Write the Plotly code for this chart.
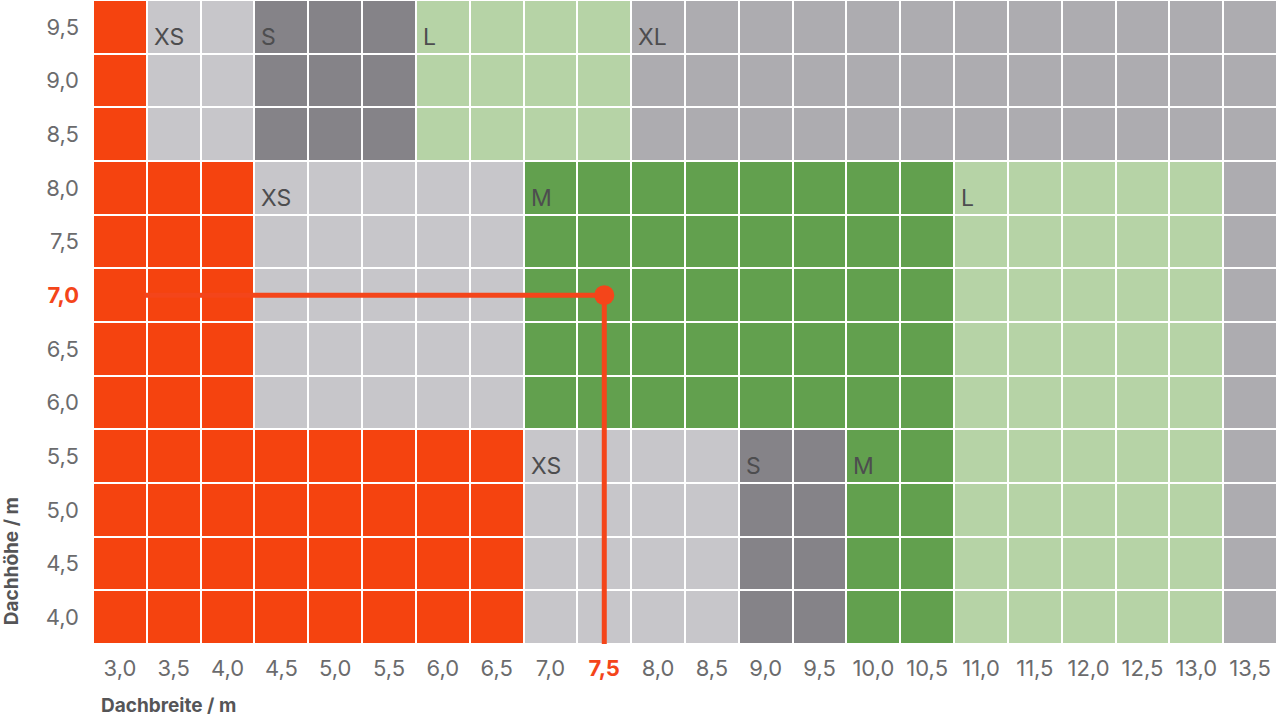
import plotly.graph_objects as go

# --- data ---
widths = [3.0, 3.5, 4.0, 4.5, 5.0, 5.5, 6.0, 6.5, 7.0, 7.5, 8.0, 8.5,
          9.0, 9.5, 10.0, 10.5, 11.0, 11.5, 12.0, 12.5, 13.0, 13.5]
heights = [4.0, 4.5, 5.0, 5.5, 6.0, 6.5, 7.0, 7.5, 8.0, 8.5, 9.0, 9.5]

row_low = ["R"] * 8 + ["XS"] * 4 + ["S"] * 2 + ["M"] * 2 + ["L"] * 5 + ["XL"]
row_mid = ["R"] * 3 + ["XS"] * 5 + ["M"] * 8 + ["L"] * 5 + ["XL"]
row_high = ["R"] + ["XS"] * 2 + ["S"] * 3 + ["L"] * 4 + ["XL"] * 12
size_grid = [row_low] * 4 + [row_mid] * 5 + [row_high] * 3   # rows bottom -> top

classes = ["R", "XS", "S", "M", "L", "XL"]
class_colors = ["#F5430F", "#C7C6CA", "#858388", "#62A04E", "#B6D3A6", "#ADACB0"]

labels = [(3.5, 9.5, "XS"), (4.5, 9.5, "S"), (6.0, 9.5, "L"), (8.0, 9.5, "XL"),
          (4.5, 8.0, "XS"), (7.0, 8.0, "M"), (11.0, 8.0, "L"),
          (7.0, 5.5, "XS"), (9.0, 5.5, "S"), (10.0, 5.5, "M")]

sel_width = 7.5
sel_height = 7.0

ORANGE = "#F4451A"
FONT = "Inter, Roboto, Liberation Sans, sans-serif"

def fmt(v):
    return f"{v:.1f}".replace(".", ",")

# --- figure ---
z = [[classes.index(c) for c in row] for row in size_grid]
n = len(classes)
cs = []
for i, c in enumerate(class_colors):
    cs.append([i / n, c])
    cs.append([(i + 1) / n, c])

fig = go.Figure()
fig.add_trace(go.Heatmap(
    x=widths, y=heights, z=z, colorscale=cs, zmin=-0.5, zmax=n - 0.5,
    showscale=False, xgap=2, ygap=2, hoverinfo="skip"))

half = 0.25
fig.add_trace(go.Scatter(
    x=[widths[0] + half * 0.9, sel_width], y=[sel_height, sel_height], mode="lines",
    line=dict(color=ORANGE, width=5), hoverinfo="skip", showlegend=False))
fig.add_trace(go.Scatter(
    x=[sel_width, sel_width], y=[sel_height, heights[0] - half], mode="lines",
    line=dict(color=ORANGE, width=5), hoverinfo="skip", showlegend=False))
fig.add_trace(go.Scatter(
    x=[sel_width], y=[sel_height], mode="markers",
    marker=dict(color=ORANGE, size=20), hoverinfo="skip", showlegend=False))

for (lx, ly, t) in labels:
    fig.add_annotation(x=lx - half, y=ly - half, text=t, showarrow=False,
                       xanchor="left", yanchor="bottom", xshift=5, yshift=1,
                       font=dict(size=23, color="#4d4d4f", family=FONT))

def ticktext(vals, sel):
    out = []
    for v in vals:
        if abs(v - sel) < 1e-9:
            out.append(f"<b><span style='color:{ORANGE}'>{fmt(v)}</span></b>")
        else:
            out.append(fmt(v))
    return out

fig.update_xaxes(range=[widths[0] - half, widths[-1] + half], tickvals=widths,
                 ticktext=ticktext(widths, sel_width), showgrid=False, zeroline=False,
                 showline=False, ticks="", ticklabelstandoff=9,
                 tickfont=dict(size=22, color="#6b6b6d", family=FONT))
fig.update_yaxes(range=[heights[0] - half, heights[-1] + half], tickvals=heights,
                 ticktext=ticktext(heights, sel_height), showgrid=False, zeroline=False,
                 showline=False, ticks="", ticklabelstandoff=13,
                 tickfont=dict(size=22, color="#6b6b6d", family=FONT))

fig.add_annotation(xref="paper", yref="paper", x=-0.0693, y=0.026, text="<b>Dachhöhe / m</b>",
                   textangle=-90, showarrow=False, xanchor="center", yanchor="bottom",
                   font=dict(size=19, color="#555557", family=FONT))
fig.add_annotation(xref="paper", yref="paper", x=0.005, y=-0.1165, text="<b>Dachbreite / m</b>",
                   showarrow=False, xanchor="left", yanchor="bottom",
                   font=dict(size=19, color="#555557", family=FONT))

fig.update_layout(width=1280, height=720, margin=dict(l=93, r=3, t=0, b=76),
                  paper_bgcolor="white", plot_bgcolor="white",
                  font=dict(family=FONT),
                  showlegend=False)

fig.write_html("out.html")
